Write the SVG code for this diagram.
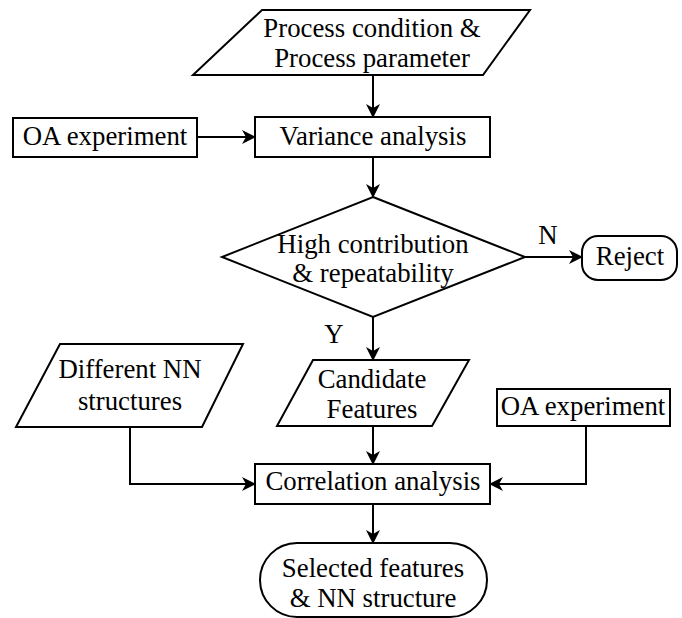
<svg xmlns="http://www.w3.org/2000/svg" width="682" height="618" viewBox="0 0 682 618">
  <style>
    .shape { fill: #fff; stroke: #000; stroke-width: 2; }
    .line { fill: none; stroke: #000; stroke-width: 2; }
    .lbl { font-family: 'Liberation Serif', 'Times New Roman', Times, serif; font-size: 26.8px; fill: #000; text-anchor: middle; }
  </style>
  <defs>
    <marker id="arrow" viewBox="0 0 14 14" refX="13" refY="7" markerWidth="14" markerHeight="14" markerUnits="userSpaceOnUse" orient="auto">
      <path d="M0,0 L14,7 L0,14 L4,7 Z" fill="#000"/>
    </marker>
  </defs>

  <g id="connectors">
    <line class="line" x1="373" y1="75" x2="373" y2="117" marker-end="url(#arrow)"/>
    <line class="line" x1="197" y1="137" x2="255" y2="137" marker-end="url(#arrow)"/>
    <line class="line" x1="373" y1="157" x2="373" y2="197" marker-end="url(#arrow)"/>
    <line class="line" x1="525" y1="257" x2="582" y2="257" marker-end="url(#arrow)"/>
    <line class="line" x1="373" y1="317" x2="373" y2="360" marker-end="url(#arrow)"/>
    <line class="line" x1="373" y1="426" x2="373" y2="464" marker-end="url(#arrow)"/>
    <polyline class="line" points="130,427 130,484 255,484" marker-end="url(#arrow)"/>
    <polyline class="line" points="586,426 586,484 490,484" marker-end="url(#arrow)"/>
    <line class="line" x1="373" y1="504" x2="373" y2="543" marker-end="url(#arrow)"/>
    <text class="lbl" x="548" y="244">N</text>
    <text class="lbl" x="334" y="343">Y</text>
  </g>

  <g id="process-input">
    <polygon class="shape" points="262,10 530,10 483,75 193,75"/>
    <text class="lbl" x="372" y="37">Process condition &amp;</text>
    <text class="lbl" x="372" y="67">Process parameter</text>
  </g>

  <g id="oa-experiment-1">
    <rect class="shape" x="13" y="118" width="184" height="39"/>
    <text class="lbl" x="105" y="145">OA experiment</text>
  </g>

  <g id="variance-analysis">
    <rect class="shape" x="255" y="117" width="235" height="40"/>
    <text class="lbl" x="373" y="145">Variance analysis</text>
  </g>

  <g id="decision">
    <polygon class="shape" points="373,197 525,257 373,317 222,257"/>
    <text class="lbl" x="373" y="253">High contribution</text>
    <text class="lbl" x="373" y="282">&amp; repeatability</text>
  </g>

  <g id="reject">
    <rect class="shape" x="582" y="236" width="95" height="44" rx="16" ry="16"/>
    <text class="lbl" x="630" y="265">Reject</text>
  </g>

  <g id="different-nn">
    <polygon class="shape" points="60,344 243,344 202,427 16,427"/>
    <text class="lbl" x="130" y="378">Different NN</text>
    <text class="lbl" x="130" y="410">structures</text>
  </g>

  <g id="candidate-features">
    <polygon class="shape" points="313,360 469,360 432,426 277,426"/>
    <text class="lbl" x="372" y="388">Candidate</text>
    <text class="lbl" x="372" y="418">Features</text>
  </g>

  <g id="oa-experiment-2">
    <rect class="shape" x="497" y="389" width="173" height="37"/>
    <text class="lbl" x="583" y="415">OA experiment</text>
  </g>

  <g id="correlation-analysis">
    <rect class="shape" x="255" y="464" width="235" height="40"/>
    <text class="lbl" x="373" y="490">Correlation analysis</text>
  </g>

  <g id="selected">
    <rect class="shape" x="260" y="543" width="227" height="74" rx="37" ry="37"/>
    <text class="lbl" x="373" y="577">Selected features</text>
    <text class="lbl" x="373" y="607">&amp; NN structure</text>
  </g>
</svg>
